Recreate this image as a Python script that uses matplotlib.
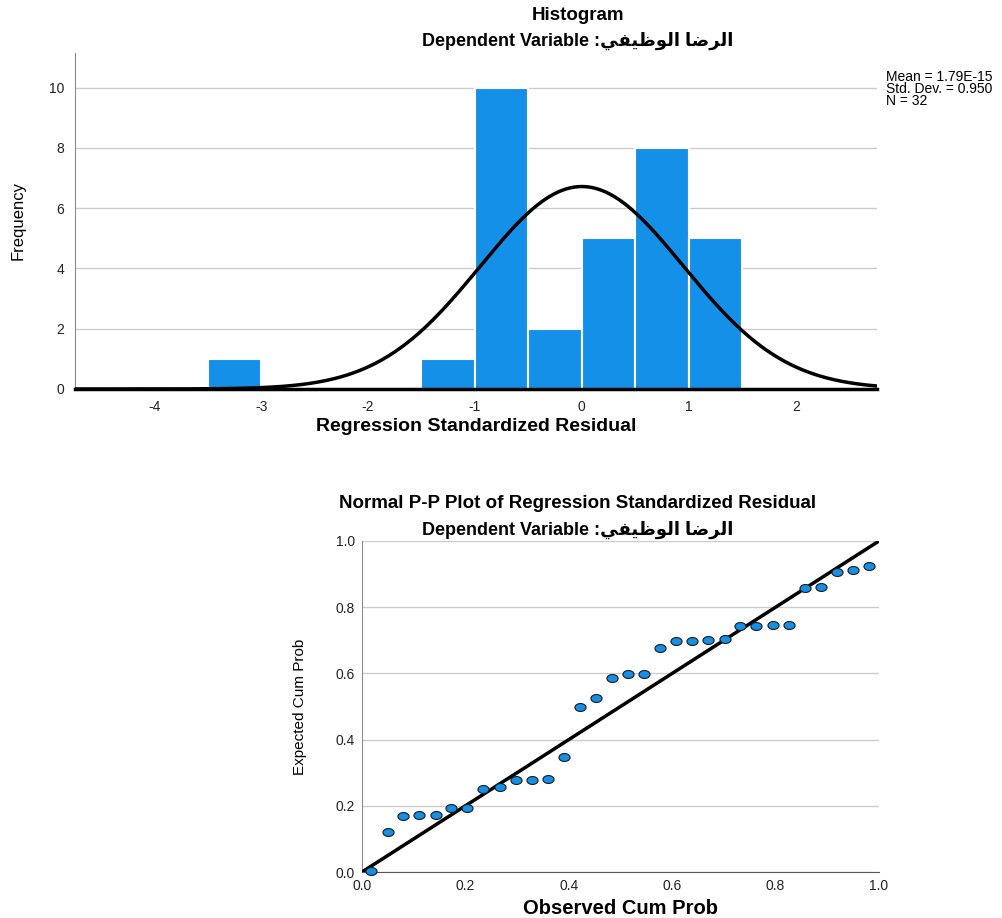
import numpy as np
import matplotlib
matplotlib.use("Agg")
import matplotlib.pyplot as plt
from matplotlib.path import Path
from matplotlib.transforms import Affine2D

# Histogram data (bin edges and counts)
bin_lefts = [-3.5, -1.5, -1.0, -0.5, 0.0, 0.5, 1.0]
bin_counts = [1, 1, 10, 2, 5, 8, 5]
bin_width = 0.5
resid_mean = 1.79e-15
resid_sd = 0.950
n_obs = 32
hist_xticks = [-4, -3, -2, -1, 0, 1, 2]
hist_yticks = [0, 2, 4, 6, 8, 10]

# P-P plot data
observed_cum = [0.018, 0.050, 0.080, 0.111, 0.143, 0.173, 0.204, 0.235,
                0.267, 0.298, 0.329, 0.359, 0.390, 0.421, 0.453, 0.484,
                0.515, 0.546, 0.577, 0.608, 0.639, 0.670, 0.702, 0.732,
                0.763, 0.795, 0.826, 0.857, 0.888, 0.919, 0.950, 0.981]
expected_cum = [0.002, 0.120, 0.168, 0.171, 0.171, 0.193, 0.194, 0.250,
                0.257, 0.279, 0.279, 0.280, 0.346, 0.498, 0.525, 0.586,
                0.597, 0.598, 0.678, 0.698, 0.698, 0.700, 0.704, 0.742,
                0.742, 0.746, 0.746, 0.859, 0.862, 0.905, 0.913, 0.924]
pp_ticks = [0.0, 0.2, 0.4, 0.6, 0.8, 1.0]

# Arabic variable name, pre-shaped presentation forms in visual order
dep_var = ("\uFEF2\uFED4\uFEF4\uFEC7\uFEEE\uFEDF\uFE8D"
           " \uFE8E\uFEBF\uFEAE\uFEDF\uFE8D")

BAR_BLUE = "#1590e8"
GRID = "#cccccc"
TXT = ["Liberation Sans", "DejaVu Sans"]

plt.rcParams["font.family"] = TXT
plt.rcParams["axes.unicode_minus"] = False

fig = plt.figure(figsize=(10.02, 9.18), dpi=100)

# ---------------- Histogram ----------------
ax1 = fig.add_axes([75 / 1002, 1 - 389 / 918, 802 / 1002, 336 / 918])
ax1.bar(bin_lefts, bin_counts, width=bin_width, align="edge",
        color=BAR_BLUE, edgecolor="white", linewidth=1.5, zorder=2)

# normal curve from the stated mean / std. dev., scaled to counts
xs = np.linspace(-4.74, 2.76, 400)
pdf = np.exp(-0.5 * ((xs - resid_mean) / resid_sd) ** 2) / (resid_sd * np.sqrt(2 * np.pi))
ax1.plot(xs, n_obs * bin_width * pdf, color="black", lw=2.5, zorder=3)

ax1.set_xlim(-4.74, 2.76)
ax1.set_ylim(0, 11.15)
ax1.set_xticks(hist_xticks)
ax1.set_yticks(hist_yticks)
ax1.yaxis.grid(True, color=GRID, lw=1, zorder=0)
ax1.set_axisbelow(True)
for s in ["top", "right"]:
    ax1.spines[s].set_visible(False)
ax1.spines["left"].set_color("#8c8c8c")
ax1.spines["bottom"].set_color("black")
ax1.spines["bottom"].set_linewidth(2.5)
ax1.tick_params(length=0, labelsize=10, colors="#222222", pad=8)

ax1.set_xlabel("Regression Standardized Residual", fontsize=14, fontweight="bold")
ax1.xaxis.set_label_coords(0.5, -0.113)
ax1.xaxis.label.set_va("center")
ax1.set_ylabel("Frequency", fontsize=12)
ax1.yaxis.set_label_coords(-0.071, 0.5)
ax1.yaxis.label.set_va("center")

fig.text(886 / 1002, 1 - 70 / 918,
         "Mean = 1.79E-15\nStd. Dev. = 0.950\nN = %d" % n_obs,
         fontsize=10, va="top", ha="left", linespacing=0.8)

fig.text(578 / 1002, 1 - 15 / 918, "Histogram", fontsize=13.5,
         fontweight="bold", ha="center", va="center")
fig.text(578 / 1002, 1 - 41 / 918, "Dependent Variable :" + dep_var,
         fontsize=13, fontweight="bold", ha="center", va="center")

# ---------------- P-P plot ----------------
ax2 = fig.add_axes([362 / 1002, 1 - 872 / 918, 517 / 1002, 331 / 918])
ax2.plot([0, 1], [0, 1], color="black", lw=2.5, zorder=3)

ellipse = Path.unit_circle().transformed(Affine2D().scale(1.4, 1.0))
ax2.plot(observed_cum, expected_cum, linestyle="none", marker=ellipse,
         markersize=8, markerfacecolor=BAR_BLUE, markeredgecolor="#1a1a1a",
         markeredgewidth=0.8, zorder=4, clip_on=False)

ax2.set_xlim(0, 1)
ax2.set_ylim(0, 1)
ax2.set_xticks(pp_ticks)
ax2.set_yticks(pp_ticks)
ax2.xaxis.set_major_formatter(plt.FormatStrFormatter("%.1f"))
ax2.yaxis.set_major_formatter(plt.FormatStrFormatter("%.1f"))
ax2.yaxis.grid(True, color=GRID, lw=1, zorder=0)
ax2.set_axisbelow(True)
for s in ["top", "right"]:
    ax2.spines[s].set_visible(False)
ax2.spines["left"].set_color("#8c8c8c")
ax2.spines["bottom"].set_color("#555555")
ax2.tick_params(length=0, labelsize=10, colors="#222222", pad=5)

ax2.set_xlabel("Observed Cum Prob", fontsize=14.5, fontweight="bold")
ax2.xaxis.set_label_coords(0.5, -0.109)
ax2.xaxis.label.set_va("center")
ax2.set_ylabel("Expected Cum Prob", fontsize=11)
ax2.yaxis.set_label_coords(-0.12, 0.5)
ax2.yaxis.label.set_va("center")

fig.text(578 / 1002, 1 - 503 / 918, "Normal P-P Plot of Regression Standardized Residual",
         fontsize=13.5, fontweight="bold", ha="center", va="center")
fig.text(578 / 1002, 1 - 530 / 918, "Dependent Variable :" + dep_var,
         fontsize=13, fontweight="bold", ha="center", va="center")

fig.savefig("out.png", dpi=100)
